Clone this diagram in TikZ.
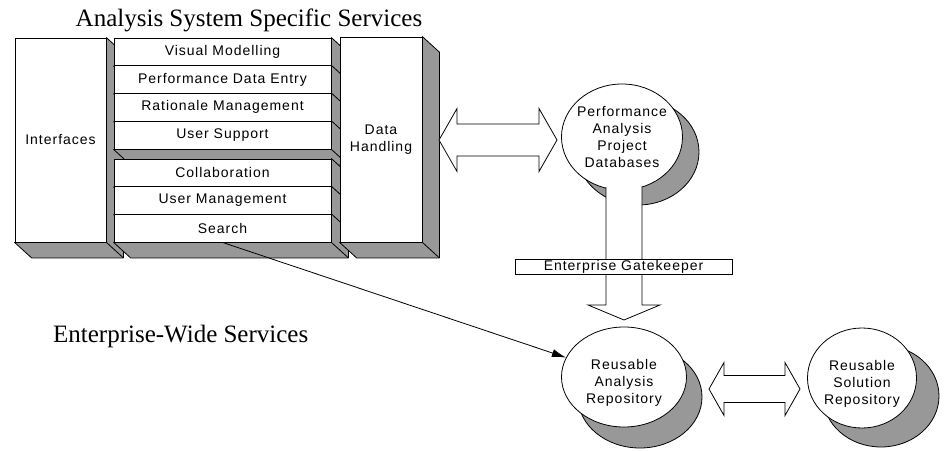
\documentclass[tikz,border=0pt]{standalone}
\usepackage{fontspec}
\setmainfont{Liberation Serif}
\setsansfont{Liberation Sans}[LetterSpace=7]
\usetikzlibrary{shapes.geometric,arrows.meta,calc}

\definecolor{shadegray}{RGB}{152,152,152}

\tikzset{
  face/.style={draw, fill=white, inner sep=0pt, align=center,
    font=\sffamily\fontsize{14}{16.8}\selectfont},
  row/.style={face, minimum width=217pt, minimum height=27.75pt},
  side/.style={draw, fill=shadegray, line join=round},
  disc/.style={ellipse, draw, fill=white, inner sep=0pt},
  tag/.style={align=center, font=\sffamily\fontsize{14}{16.8}\selectfont},
  fat/.style={draw, fill=white, line join=miter},
  heading/.style={font=\fontsize{25}{30}\selectfont}
}

% depth of the blocks
\def\dpx{17}
\def\dpy{15.5}

% grey side and bottom of a block, down to the right
\newcommand{\blockside}[1]{%
  \filldraw[side] (#1.north east) -- ++(\dpx,\dpy) -- ($(#1.south east)+(\dpx,\dpy)$)
    -- ($(#1.south west)+(\dpx,\dpy)$) -- (#1.south west) -- (#1.south east) -- cycle;
  \draw (#1.south east) -- ++(\dpx,\dpy);
}

\begin{document}
\begin{tikzpicture}[x=1pt, y=-1pt, line width=0.8pt]

  \useasboundingbox (0,0) rectangle (946,452);

  % Headings
  \node[heading, anchor=base west] (asss) at (72,27) {Analysis System Specific Services};
  \node[heading, anchor=base east] (ews) at (312,342) {Enterprise-Wide Services};

  % Interfaces block
  \node[face, minimum width=91pt, minimum height=204pt] (iface) at (60.5,140) {Interfaces};
  \blockside{iface}

  % Upper stack of services
  \node[row] (vm) at (222.5,51.875) {Visual Modelling};
  \blockside{vm}
  \node[row] (pde) at (222.5,79.625) {Performance Data Entry};
  \blockside{pde}
  \node[row] (rm) at (222.5,107.375) {Rationale Management};
  \blockside{rm}
  \node[row] (us) at (222.5,135.125) {User Support};
  \blockside{us}

  % Lower stack of services
  \node[row, minimum height=27.67pt] (collab) at (222.5,172.83) {\raisebox{-4pt}{Collaboration}};
  \blockside{collab}
  \node[row, minimum height=27.67pt] (um) at (222.5,200.5) {User Management};
  \blockside{um}
  \node[row, minimum height=27.67pt] (search) at (222.5,228.17) {Search};
  \blockside{search}

  % Data handling block
  \node[face, minimum width=82pt, minimum height=205pt] (dh) at (381,139.5) {Data\\Handling};
  \blockside{dh}

  % Double arrow between data handling and the databases
  \filldraw[fat] (439,140) -- (457,108.5) -- (457,124) -- (539,124) -- (539,108.5) -- (557,140)
    -- (539,171.5) -- (539,156) -- (457,156) -- (457,171.5) -- cycle;

  % Performance analysis project databases
  \filldraw[side] (638,152) ellipse [x radius=61pt, y radius=53pt];
  \node[disc, minimum width=121pt, minimum height=106pt,
    label={[tag]center:Performance\\Analysis\\Project\\Databases}] (pad) at (622,137) {};

  % Reusable analysis repository
  \filldraw[side] (640,397) ellipse [x radius=62pt, y radius=51pt];
  \node[disc, minimum width=125pt, minimum height=100pt,
    label={[tag, yshift=-6pt]center:Reusable\\Analysis\\Repository}] (rar) at (624,377) {};

  % Reusable solution repository
  \filldraw[side] (881,396) ellipse [x radius=58pt, y radius=51pt];
  \node[disc, minimum width=109pt, minimum height=100pt,
    label={[tag, yshift=-6pt]center:Reusable\\Solution\\Repository}] (rsr) at (862,378) {};

  % Arrow down through the gatekeeper
  \filldraw[fat] (606,187) -- (606,305) -- (588,305) -- (624,320) -- (660,305) -- (642,305) -- (642,187);
  \node[face, minimum width=217pt, minimum height=15pt] (gk) at (623.5,266.5) {Enterprise Gatekeeper};

  % Double arrow between the two repositories
  \filldraw[fat] (709,389) -- (724,362.5) -- (724,375.5) -- (785,375.5) -- (785,362.5) -- (800,389)
    -- (785,415.5) -- (785,402.5) -- (724,402.5) -- (724,415.5) -- cycle;

  % Search feeds the reusable analysis repository
  \draw[-{Latex[length=14pt,width=8pt]}] (search.south) -- (rar);

\end{tikzpicture}
\end{document}
